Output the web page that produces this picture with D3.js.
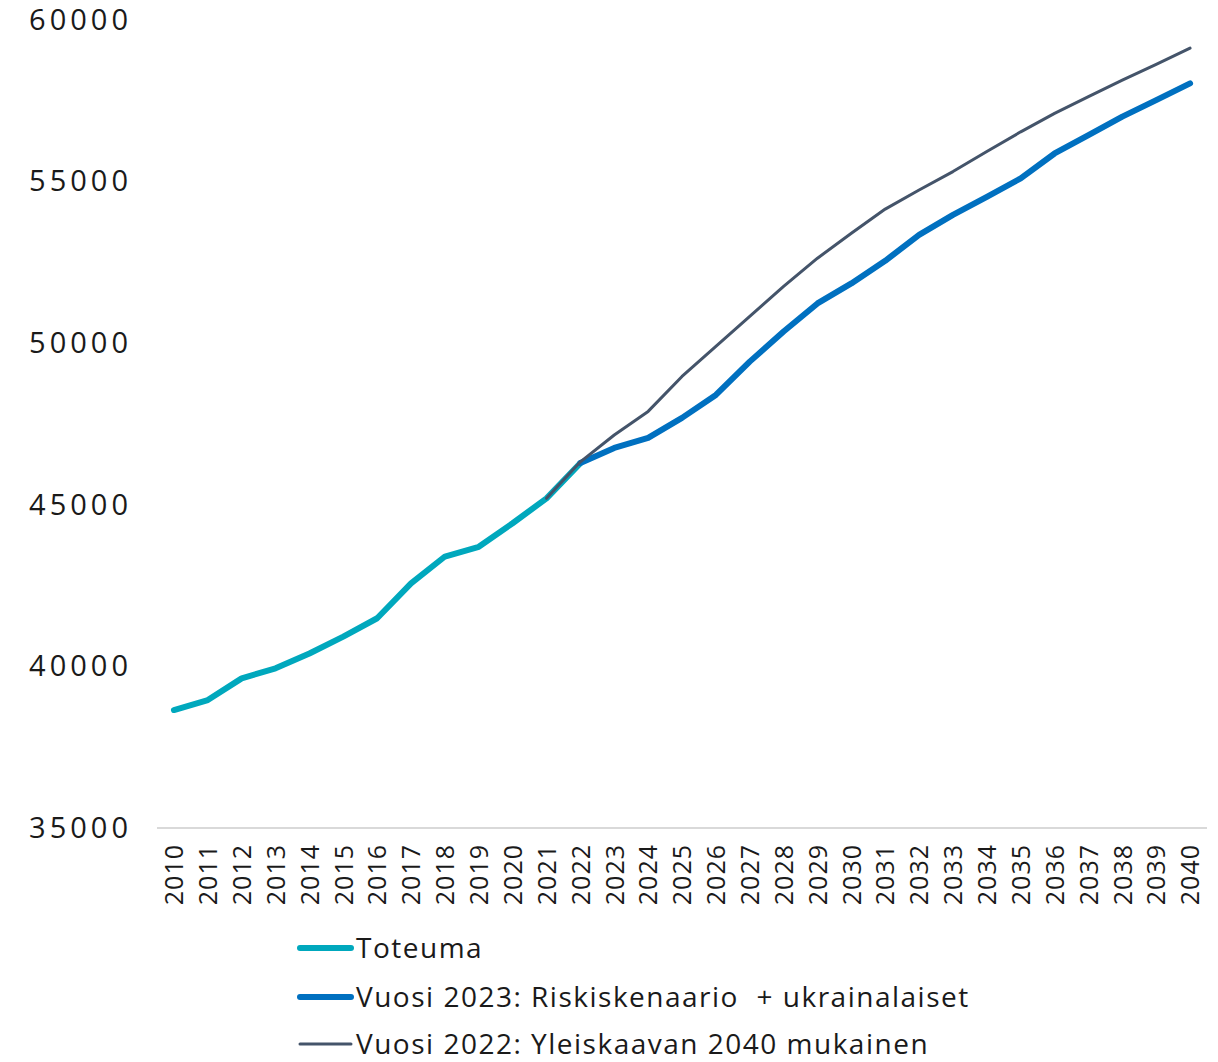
<!DOCTYPE html>
<html>
<head>
<meta charset="utf-8">
<script src="https://cdn.jsdelivr.net/npm/d3@7/dist/d3.min.js"></script>
<style>
  body { margin: 0; background: #fff; }
  text { font-family: "Open Sans", "DejaVu Sans", sans-serif; fill: #1a1a1a; }
</style>
</head>
<body>
<div id="chart"></div>
<script>
// years on the x axis
var years = d3.range(2010, 2041).map(String);

// Toteuma 2010-2022
var toteuma = [38650, 38960, 39630, 39940, 40400, 40920, 41490, 42570, 43400, 43700, 44430, 45200, 46290];

// Vuosi 2023: Riskiskenaario + ukrainalaiset, 2022-2040
var riski = [46290, 46760, 47070, 47690, 48400, 49430, 50360, 51230, 51850, 52550,
             53350, 53970, 54530, 55100, 55870, 56440, 57010, 57520, 58040];

// Vuosi 2022: Yleiskaavan 2040 mukainen, 2021-2040
var yleiskaava = [45200, 46330, 47160, 47890, 48970, 49900, 50830, 51760, 52630, 53400,
                  54150, 54740, 55310, 55930, 56540, 57110, 57630, 58140, 58630, 59130];

var yTicks = [35000, 40000, 45000, 50000, 55000, 60000];

var seriesNames = ["Toteuma", "Vuosi 2023: Riskiskenaario  + ukrainalaiset", "Vuosi 2022: Yleiskaavan 2040 mukainen"];
var seriesColors = ["#00a8bd", "#0070c0", "#44546a"];
var seriesWidths = [6, 6, 3];

var width = 1218, height = 1062;
var margin = { left: 157, right: 11, top: 20, bottom: 234 };

var svg = d3.select("#chart").append("svg")
    .attr("width", width)
    .attr("height", height);

var x = d3.scalePoint().domain(years)
    .range([margin.left, width - margin.right])
    .padding(0.5);

var y = d3.scaleLinear().domain([35000, 60000])
    .range([height - margin.bottom, margin.top]);

// baseline
svg.append("line")
    .attr("x1", margin.left).attr("x2", width - margin.right)
    .attr("y1", y(35000)).attr("y2", y(35000))
    .attr("stroke", "#d9d9d9").attr("stroke-width", 2);

// y axis labels
var yAxis = d3.axisLeft(y).tickValues(yTicks).tickSize(0).tickPadding(25).tickFormat(d3.format("d"));
var gy = svg.append("g").attr("transform", "translate(" + margin.left + ",0)").call(yAxis);
gy.select(".domain").remove();
gy.selectAll("text")
    .style("font-size", "29px")
    .style("letter-spacing", "4px")
    .style("fill", "#1a1a1a")
    .style("font-family", "'Open Sans', sans-serif");

// x axis labels (rotated)
var xAxis = d3.axisBottom(x).tickSize(0).tickPadding(0);
var gx = svg.append("g").attr("transform", "translate(0," + y(35000) + ")").call(xAxis);
gx.select(".domain").remove();
gx.selectAll("text")
    .attr("transform", "rotate(-90)")
    .attr("x", -16)
    .attr("y", 0)
    .attr("dy", "0.35em")
    .style("text-anchor", "end")
    .style("font-size", "25px")
    .style("letter-spacing", "1px")
    .style("fill", "#1a1a1a")
    .style("font-family", "'Open Sans', sans-serif");

function toPoints(vals, startYear) {
    return vals.map(function (v, i) { return { year: String(startYear + i), value: v }; });
}

var line = d3.line()
    .x(function (d) { return x(d.year); })
    .y(function (d) { return y(d.value); });

var data = [toPoints(toteuma, 2010), toPoints(riski, 2022), toPoints(yleiskaava, 2021)];

// draw order: toteuma, riski, yleiskaava on top
data.forEach(function (pts, i) {
    svg.append("path").datum(pts)
        .attr("d", line)
        .attr("fill", "none")
        .attr("stroke", seriesColors[i])
        .attr("stroke-width", seriesWidths[i])
        .attr("stroke-linejoin", "round")
        .attr("stroke-linecap", "round");
});

// legend
var legendY = [948, 997, 1044];
seriesNames.forEach(function (name, i) {
    var g = svg.append("g").attr("transform", "translate(0," + legendY[i] + ")");
    g.append("line")
        .attr("x1", 300).attr("x2", 351)
        .attr("stroke", seriesColors[i])
        .attr("stroke-width", seriesWidths[i])
        .attr("stroke-linecap", "round");
    g.append("text")
        .attr("x", 356)
        .attr("dy", "0.35em")
        .style("font-size", "28px")
        .style("letter-spacing", "1.5px")
        .style("white-space", "pre")
        .text(name);
});
</script>
</body>
</html>
